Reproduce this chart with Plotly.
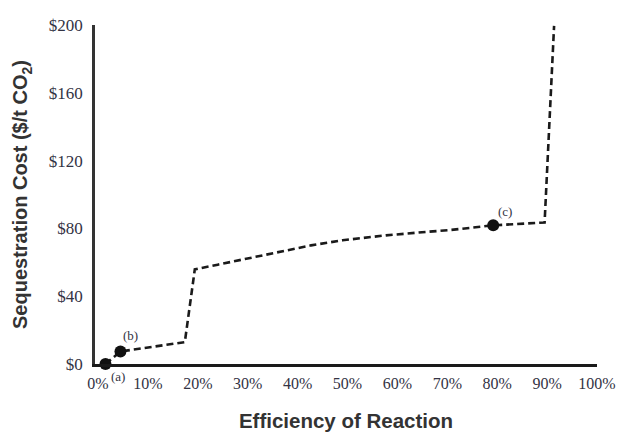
import plotly.graph_objects as go

# Curve (efficiency %, cost $/t CO2)
curve_x = [1.5, 4.5, 17.4, 19.4, 24, 30.7, 37.4, 42.7, 49, 57.7, 65.7, 70.4, 79.2, 89.5, 91.4]
curve_y = [0, 7.4, 12.9, 55.8, 58.6, 62.7, 67.1, 70.0, 73.0, 75.9, 77.9, 79.0, 81.8, 83.5, 199.5]

# Highlighted points
point_x = [1.5, 4.5, 79.2]
point_y = [0, 7.4, 81.8]
point_labels = ["(a)", "(b)", "(c)"]
label_dx = [13, 10, 12]
label_dy = [-12, 16, 14]

x_tickvals = [0, 10, 20, 30, 40, 50, 60, 70, 80, 90, 100]
x_ticktext = ["0%", "10%", "20%", "30%", "40%", "50%", "60%", "70%", "80%", "90%", "100%"]
y_tickvals = [0, 40, 80, 120, 160, 200]
y_ticktext = ["$0", "$40", "$80", "$120", "$160", "$200"]

fig = go.Figure()
fig.add_trace(go.Scatter(
    x=curve_x, y=curve_y, mode="lines",
    line=dict(color="#1a1a1a", width=2.6, dash="7px,4px"),
    cliponaxis=False, showlegend=False, hoverinfo="skip"))
fig.add_trace(go.Scatter(
    x=point_x, y=point_y, mode="markers",
    marker=dict(color="#111111", size=12),
    cliponaxis=False, showlegend=False))

for px, py, lab, dx, dy in zip(point_x, point_y, point_labels, label_dx, label_dy):
    fig.add_annotation(x=px, y=py, text=lab, showarrow=False,
                       xshift=dx, yshift=dy,
                       font=dict(family="Liberation Serif", size=13, color="#333344"))

fig.update_layout(
    width=623, height=432,
    margin=dict(l=95, r=26, t=25, b=68),
    paper_bgcolor="white", plot_bgcolor="white",
    font=dict(family="Liberation Serif", size=16, color="#333344"),
    xaxis=dict(
        range=[-0.6, 100], tickvals=x_tickvals, ticktext=x_ticktext,
        showgrid=False, zeroline=False, showline=True,
        linecolor="#1a1a1a", linewidth=3, ticks="",
        ticklabelstandoff=3, automargin=False,
        tickfont=dict(family="Liberation Serif", size=16, color="#333344"),
        title=dict(text="Efficiency of Reaction", standoff=23,
                   font=dict(family="Liberation Sans", size=20.5, color="#333333", weight="bold"))),
    yaxis=dict(
        range=[0, 200], tickvals=y_tickvals, ticktext=y_ticktext,
        showgrid=False, zeroline=False, showline=True,
        linecolor="#333333", linewidth=2.5, ticks="",
        ticklabelstandoff=6, automargin=False,
        tickfont=dict(family="Liberation Serif", size=17, color="#333344"),
        title=dict(text="Sequestration Cost ($/t CO<sub>2</sub>)", standoff=16,
                   font=dict(family="Liberation Sans", size=20, color="#333333", weight="bold"))),
)

fig.write_html("out.html", config={"displayModeBar": False},
               post_script="document.body.style.margin='0px';")
